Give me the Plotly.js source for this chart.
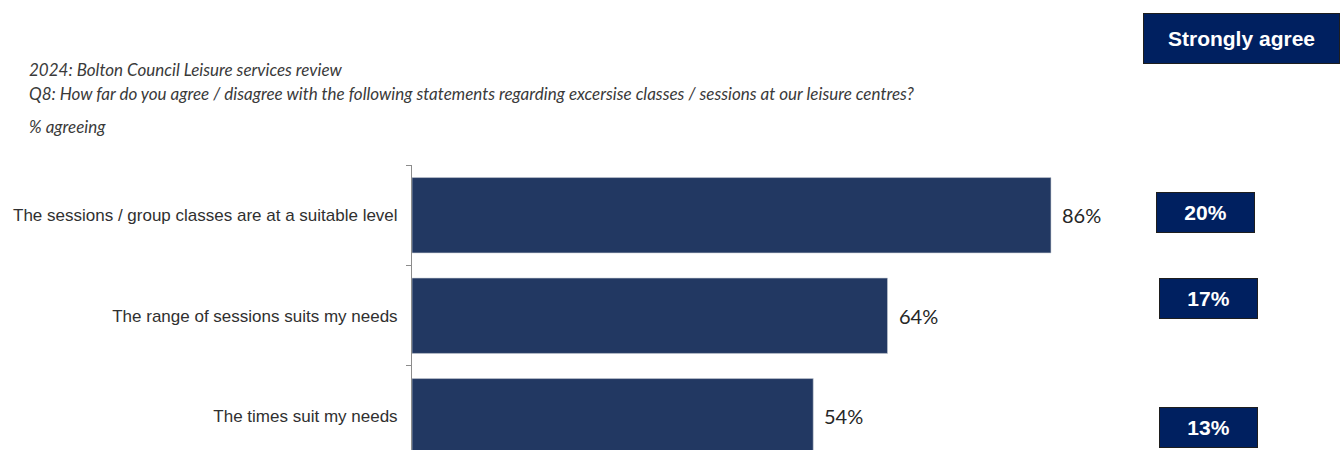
<!DOCTYPE html>
<html>
<head>
<meta charset="utf-8">
<script src="https://cdn.plot.ly/plotly-3.0.1.min.js"></script>
<style>
html,body{margin:0;padding:0;overflow:hidden;background:#fff;}
#chart{width:1341px;height:450px;}
</style>
</head>
<body>
<div id="chart"></div>
<script>
const categories = [
  "The sessions / group classes are at a suitable level",
  "The range of sessions suits my needs",
  "The times suit my needs"
];
const agreeing = [86, 64, 54];
const stronglyAgree = [20, 17, 13];
const titleLines = [
  "2024: Bolton Council Leisure services review",
  "Q8: How far do you agree / disagree with the following statements regarding excersise classes / sessions at our leisure centres?",
  "% agreeing"
];
const headerLabel = "Strongly agree";

const barColor = "#223862";
const boxColor = "#002060";

const trace = {
  type: "bar",
  orientation: "h",
  x: agreeing,
  y: categories,
  width: 0.75,
  marker: {color: barColor, line: {color: "#c8ccd4", width: 0.6}},
  hoverinfo: "none"
};

const annotations = [];
// title lines
const titleY = [1.336, 1.252, 1.136];
titleLines.forEach((t, i) => {
  annotations.push({
    text: t, xref: "paper", yref: "paper",
    x: -385 / 743, y: titleY[i], xanchor: "left", yanchor: "middle",
    showarrow: false,
    font: {family: "Lato", size: 17, color: "#3a3a3a", style: "italic"}
  });
});
// value labels
agreeing.forEach((v, i) => {
  annotations.push({
    text: v + "%", x: v, y: categories[i], xref: "x", yref: "y",
    xanchor: "left", yanchor: "middle", xshift: 9, showarrow: false,
    font: {family: "Lato", size: 20, color: "#262626"}
  });
});
// strongly agree header
annotations.push({
  text: "<b>" + headerLabel + "</b>", xref: "paper", yref: "paper",
  x: (1241.5 - 412) / 743, y: 1 + (165 - 38.5) / 285,
  xanchor: "center", yanchor: "middle", showarrow: false,
  width: 193, height: 47, bgcolor: boxColor, bordercolor: "#1e1e1e", borderwidth: 1,
  font: {family: "Liberation Sans", size: 21, color: "#ffffff"}
});
// strongly agree boxes
const boxX = [1205.5, 1208.5, 1208.5];
const boxShift = [3, 17, -11];
stronglyAgree.forEach((v, i) => {
  annotations.push({
    text: "<b>" + v + "%</b>", xref: "paper", yref: "y",
    x: (boxX[i] - 412) / 743, y: categories[i], yshift: boxShift[i],
    xanchor: "center", yanchor: "middle", showarrow: false,
    width: 95, height: 37, bgcolor: boxColor, bordercolor: "#1e1e1e", borderwidth: 1,
    font: {family: "Liberation Sans", size: 21, color: "#ffffff"}
  });
});

const layout = {
  width: 1341, height: 450,
  margin: {l: 412, r: 186, t: 165, b: 0, pad: 0},
  paper_bgcolor: "#ffffff", plot_bgcolor: "#ffffff",
  showlegend: false,
  xaxis: {range: [0, 100], visible: false, fixedrange: true},
  yaxis: {
    type: "category",
    categoryorder: "array", categoryarray: categories,
    range: [2.336, -0.5],
    showline: true, linecolor: "#8c8c8c", linewidth: 1,
    ticks: "outside", tickson: "boundaries", ticklen: 5, tickcolor: "#8c8c8c",
    showgrid: false, zeroline: false,
    ticklabelstandoff: 10,
    tickfont: {family: "Liberation Sans", size: 17, color: "#303030"},
    fixedrange: true
  },
  annotations: annotations
};

Plotly.newPlot("chart", [trace], layout, {displayModeBar: false, staticPlot: true});
</script>
</body>
</html>
